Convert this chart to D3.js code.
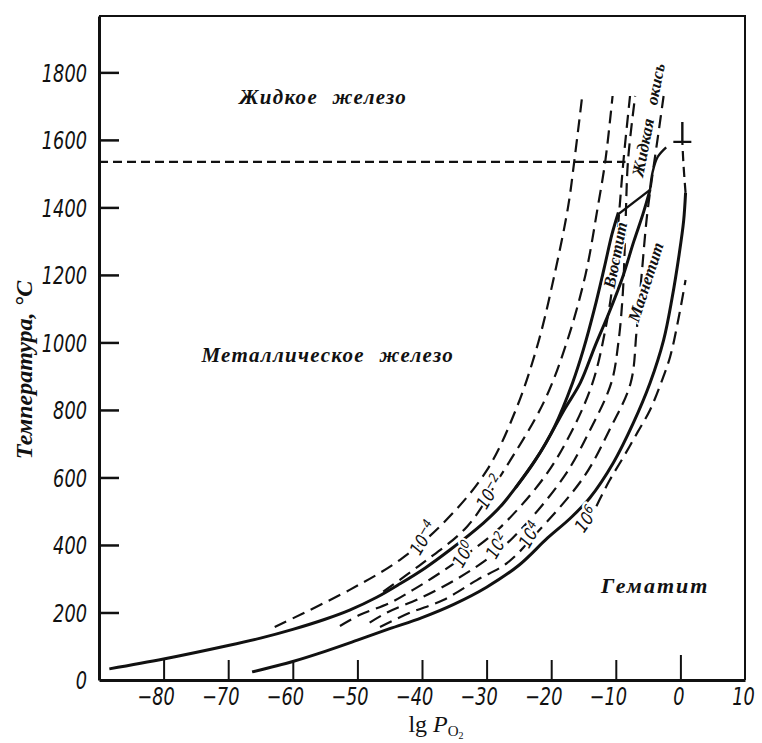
<!DOCTYPE html>
<html>
<head>
<meta charset="utf-8">
<script src="https://cdn.jsdelivr.net/npm/d3@7"></script>
<style>
  body { margin: 0; background: #fff; }
  svg { display: block; }
  .tick text { font-family: "DejaVu Sans", sans-serif; font-style: italic; font-size: 24px; fill: #111; }
  .serif-label { font-family: "Liberation Serif", "DejaVu Serif", serif; font-style: italic; font-weight: bold; fill: #111; }
</style>
</head>
<body>
<svg id="chart" width="762" height="743"></svg>
<script>
const width = 762, height = 743;
const narrow = 0.74; // horizontal squeeze for the condensed tick digits

// axis ticks
const tempTicks = [0, 200, 400, 600, 800, 1000, 1200, 1400, 1600, 1800];
const lgTicks = [-80, -70, -60, -50, -40, -30, -20, -10, 0, 10];

// phase boundaries, [lg P_O2, T °C]
const feFeO = [[-88.4, 33], [-80, 62], [-70, 102], [-65, 124], [-60, 150], [-55, 180], [-51.2, 207], [-47, 245],
  [-43.4, 285], [-39.5, 332], [-35.7, 385], [-30.5, 465], [-27.9, 513], [-25.5, 570], [-22.5, 650], [-19.5, 750],
  [-16.7, 880], [-15, 980], [-13.3, 1100], [-11.8, 1220], [-10.6, 1320], [-9.6, 1385]];
const feoFe3o4 = [[-25.5, 570], [-21.5, 680], [-18, 800], [-15.5, 880], [-13.2, 990], [-11, 1090], [-9, 1190],
  [-7.2, 1300], [-5.8, 1380], [-4.7, 1452]];
const fe3o4Fe2o3 = [[-66.3, 24], [-60, 55], [-55, 85], [-50, 118], [-45, 152], [-40, 185], [-35, 225], [-30, 275],
  [-25, 340], [-20.6, 420], [-17, 480], [-14, 540], [-10.4, 643], [-7.3, 761], [-4.7, 880], [-2.6, 1007],
  [-1.3, 1130], [-0.2, 1260], [0.5, 1360], [0.8, 1443]];
const liquidLink = [[-9.6, 1380], [-4.7, 1452]];
const liquidTop = [[-4.7, 1452], [-4.3, 1505], [-3.5, 1550], [-2.2, 1578]];
const hematiteTop = [[0.8, 1443], [0.5, 1520], [0.3, 1594]];
const meltTemp = 1535, meltEnd = -8.5;
const markerPoint = [0.3, 1594];

// lines of constant ratio (10^n)
const isoM4 = [[-62.8, 157], [-51.2, 267], [-43.4, 356], [-36.7, 465], [-30, 620], [-25.3, 809], [-22, 1000],
  [-19.5, 1200], [-17.4, 1400], [-16.4, 1541], [-15.2, 1730]];
const isoM2 = [[-46, 262], [-40, 345], [-33, 455], [-28, 600], [-21.2, 821], [-17.6, 1000], [-14.7, 1200],
  [-12.8, 1400], [-11.6, 1541], [-10.5, 1730]];
const iso0 = [[-52.7, 160], [-49.6, 193], [-45, 228], [-41.4, 267], [-37.7, 311], [-33.6, 365], [-28, 450],
  [-21.1, 600], [-17, 730], [-13.6, 880], [-11.5, 1050], [-10.3, 1200], [-9.5, 1380], [-8.8, 1541], [-7.8, 1730]];
const iso2 = [[-48.1, 170], [-45.4, 200], [-40, 245], [-35, 295], [-30.5, 350], [-26, 420], [-18.1, 600],
  [-14, 740], [-10.7, 880], [-9.6, 1000], [-8.9, 1150], [-8.5, 1350], [-8.1, 1541], [-7, 1730]];
const iso4 = [[-46.5, 157], [-41.9, 199], [-36.7, 237], [-31.5, 296], [-26.8, 347], [-22.5, 430], [-15, 600],
  [-11, 740], [-7.7, 880], [-6.8, 1030], [-6, 1200], [-5.2, 1370], [-4.3, 1500], [-3.4, 1620], [-2.6, 1730]];
const iso6 = [[-13, 515], [-11, 590], [-8.8, 661], [-6.6, 735], [-4.7, 800], [-3, 880], [-1.6, 957],
  [-0.3, 1070], [0.8, 1185]];
const isoCurves = [isoM4, isoM2, iso0, iso2, iso4, iso6];
const isoExponents = ["\u22124", "\u22122", "0", "2", "4", "6"];
const isoLabelPos = [[-39.8, 421], [-29.5, 557], [-33.6, 372], [-28.4, 398], [-23.3, 430], [-14.6, 476]];

// region names
const regionNames = ["Жидкое железо", "Металлическое железо", "Гематит"];
const regionPos = [[-55.3, 1727], [-54.6, 963], [-3.9, 281]];
const phaseNames = ["Вюстит", "Магнетит", "Жидкая окись"];
const phasePos = [[-10.1, 1259], [-5.4, 1179], [-5.0, 1659]];
const phaseAngles = [-79, -72, -79];

const svg = d3.select("#chart");
const x = d3.scaleLinear().domain([-90, 10]).range([99, 745]);
const y = d3.scaleLinear().domain([0, 1967]).range([680, 16]);

// frame (top and right)
svg.append("path")
  .attr("d", `M${x(-90)},${y(1967)}H${x(10)}V${y(0)}`)
  .attr("fill", "none").attr("stroke", "#111").attr("stroke-width", 2);

// axes with inward ticks
const yAxis = svg.append("g").attr("transform", `translate(${x(-90)},0)`)
  .call(d3.axisLeft(y).tickValues(tempTicks).tickSize(-20).tickSizeOuter(0).tickPadding(12).tickFormat(d3.format("d")));
yAxis.select(".domain").attr("stroke-width", 3).attr("stroke", "#111");
yAxis.selectAll(".tick line").attr("stroke-width", 2.5).attr("stroke", "#111");
yAxis.selectAll(".tick").filter(d => d === 0).select("line").remove();
yAxis.selectAll(".tick text").attr("dy", "0.36em")
  .attr("x", -12 / narrow).attr("transform", `scale(${narrow},1)`);

const xAxis = svg.append("g").attr("transform", `translate(0,${y(0)})`)
  .call(d3.axisBottom(x).tickValues(lgTicks).tickSize(-20).tickSizeOuter(0).tickPadding(8)
    .tickFormat(d => d < 0 ? "\u2212" + Math.abs(d) : d));
xAxis.select(".domain").attr("stroke-width", 3).attr("stroke", "#111");
xAxis.selectAll(".tick line").attr("stroke-width", 2).attr("stroke", "#111");
xAxis.selectAll(".tick").filter(d => d === 10).select("line").remove();
xAxis.selectAll(".tick").filter(d => d === 0).select("line").attr("y2", -25);
xAxis.selectAll(".tick text").attr("dx", d => (d < 0 ? -8 : -2) / narrow)
  .attr("transform", `scale(${narrow},1)`);
svg.selectAll(".domain").attr("fill", "none");

// axis titles
svg.append("text").attr("class", "serif-label")
  .attr("transform", "translate(32,370) rotate(-90)")
  .attr("text-anchor", "middle").style("font-size", "24px")
  .text("Температура, °С");

const xt = svg.append("text").attr("x", 436).attr("y", 732).attr("text-anchor", "middle")
  .style("font-family", "'Liberation Serif', 'DejaVu Serif', serif").style("font-size", "24px").attr("fill", "#111");
xt.append("tspan").text("lg ");
xt.append("tspan").style("font-style", "italic").text("P");
xt.append("tspan").attr("dy", 4).style("font-size", "15px").text("O");
xt.append("tspan").attr("dy", 3).style("font-size", "10px").text("2");

const line = d3.line().x(d => x(d[0])).y(d => y(d[1])).curve(d3.curveCatmullRom.alpha(0.5));

// melting point of iron
svg.append("path").attr("d", line([[-90, meltTemp], [meltEnd, meltTemp]]))
  .attr("fill", "none").attr("stroke", "#111").attr("stroke-width", 2.2).attr("stroke-dasharray", "9,5");

// dashed ratio curves
svg.append("g").selectAll("path").data(isoCurves).join("path")
  .attr("d", line).attr("fill", "none").attr("stroke", "#111")
  .attr("stroke-width", 2.2).attr("stroke-dasharray", "13,7");

svg.append("path").attr("d", line(hematiteTop))
  .attr("fill", "none").attr("stroke", "#111").attr("stroke-width", 2.2).attr("stroke-dasharray", "10,6");

// solid boundaries
svg.append("g").selectAll("path").data([feFeO, feoFe3o4, fe3o4Fe2o3, liquidLink, liquidTop]).join("path")
  .attr("d", line).attr("fill", "none").attr("stroke", "#111")
  .attr("stroke-width", (d, i) => i < 3 ? 3 : 2.4);

// ┴ marker at the top of the hematite line
const mx = x(markerPoint[0]), my = y(markerPoint[1]);
svg.append("path").attr("d", `M${mx - 9},${my}H${mx + 9}M${mx},${my}V${my - 20}`)
  .attr("stroke", "#111").attr("stroke-width", 2.4).attr("fill", "none");

// curve labels 10^n
const isoLab = svg.append("g").selectAll("text").data(isoExponents).join("text")
  .attr("transform", (d, i) => `translate(${x(isoLabelPos[i][0])},${y(isoLabelPos[i][1])}) rotate(${i === 5 ? -55 : -60}) scale(0.85,1)`)
  .attr("text-anchor", "middle").attr("dy", "0.35em")
  .style("font-family", "'DejaVu Sans', sans-serif")
  .style("font-style", "italic").style("font-size", "18px")
  .attr("fill", "#111").attr("stroke", "#fff").attr("stroke-width", 5).attr("paint-order", "stroke");
isoLab.append("tspan").text("10");
isoLab.append("tspan").attr("dy", "-0.45em").style("font-size", "13px").text(d => d);

// region names
svg.append("g").selectAll("text").data(regionNames).join("text")
  .attr("class", "serif-label")
  .attr("x", (d, i) => x(regionPos[i][0])).attr("y", (d, i) => y(regionPos[i][1]))
  .attr("text-anchor", "middle").attr("dy", "0.35em")
  .style("font-size", (d, i) => i === 2 ? "22px" : "21px")
  .style("letter-spacing", (d, i) => i === 2 ? "2px" : "1.3px").style("word-spacing", "8px")
  .text(d => d);

svg.append("g").selectAll("text").data(phaseNames).join("text")
  .attr("class", "serif-label")
  .attr("transform", (d, i) => `translate(${x(phasePos[i][0])},${y(phasePos[i][1])}) rotate(${phaseAngles[i]})`)
  .attr("text-anchor", "middle").attr("dy", "0.35em")
  .style("font-size", "17px").style("word-spacing", "10px")
  .attr("stroke", "#fff").attr("stroke-width", 3).attr("paint-order", "stroke")
  .text(d => d);
</script>
</body>
</html>
